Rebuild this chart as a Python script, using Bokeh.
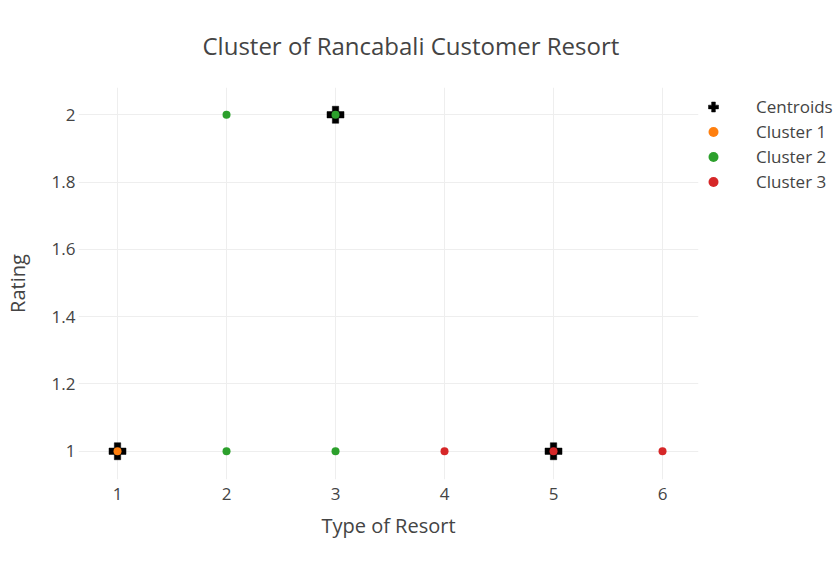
from bokeh.plotting import figure
from bokeh.models import Legend, FixedTicker, Range1d
from bokeh.embed import file_html
from bokeh.resources import INLINE

# Data
centroids_x = [1, 3, 5]
centroids_y = [1, 2, 1]
cluster1_x = [1]
cluster1_y = [1]
cluster2_x = [2, 2, 3, 3]
cluster2_y = [2, 1, 1, 2]
cluster3_x = [4, 5, 6]
cluster3_y = [1, 1, 1]

x_ticks = [1, 2, 3, 4, 5, 6]
x_tick_labels = ["1", "2", "3", "4", "5", "6"]
y_ticks = [1, 1.2, 1.4, 1.6, 1.8, 2]
y_tick_labels = ["1", "1.2", "1.4", "1.6", "1.8", "2"]

FONT = "Open Sans"
TXT = "#444444"

p = figure(frame_width=620, frame_height=392, output_backend="svg", toolbar_location=None,
           x_range=Range1d(0.642, 6.33), y_range=Range1d(0.916, 2.081),
           min_border_left=69, min_border_right=0, min_border_top=5, min_border_bottom=10)

p.title.text = "Cluster of Rancabali Customer Resort"
p.title.align = "left"
p.title.offset = 124
p.title.standoff = 52
p.title.text_font = FONT
p.title.text_font_size = "24px"
p.title.text_font_style = "normal"
p.title.text_color = TXT

p.outline_line_color = None
p.background_fill_color = "white"
p.border_fill_color = "white"

for ax in (p.xaxis, p.yaxis):
    ax.axis_line_color = None
    ax.major_tick_line_color = None
    ax.minor_tick_line_color = None
    ax.major_tick_out = 0
    ax.major_tick_in = 0
    ax.minor_tick_out = 0
    ax.minor_tick_in = 0
    ax.major_label_text_font = FONT
    ax.major_label_text_font_size = "17px"
    ax.major_label_text_color = TXT
    ax.axis_label_text_font = FONT
    ax.axis_label_text_font_size = "20px"
    ax.axis_label_text_font_style = "normal"
    ax.axis_label_text_color = TXT

p.xaxis.ticker = FixedTicker(ticks=x_ticks)
p.xaxis.major_label_overrides = {t: l for t, l in zip(x_ticks, x_tick_labels)}
p.yaxis.ticker = FixedTicker(ticks=y_ticks)
p.yaxis.major_label_overrides = {t: l for t, l in zip(y_ticks, y_tick_labels)}
p.xaxis.axis_label = "Type of Resort"
p.yaxis.axis_label = "Rating"
p.xaxis.major_label_standoff = 8
p.xaxis.axis_label_standoff = 9
p.yaxis.major_label_standoff = 3
p.yaxis.axis_label_standoff = 18

p.grid.grid_line_color = "#eeeeee"
p.grid.grid_line_width = 1

r0 = p.scatter(centroids_x, centroids_y, marker="plus", size=17, fill_color="black",
               line_color="black", line_width=0.5)
r1 = p.scatter(cluster1_x, cluster1_y, marker="circle", size=8, fill_color="#ff7f0e", line_color=None)
r2 = p.scatter(cluster2_x, cluster2_y, marker="circle", size=8, fill_color="#2ca02c", line_color=None)
r3 = p.scatter(cluster3_x, cluster3_y, marker="circle", size=8, fill_color="#d62728", line_color=None)

legend = Legend(items=[("Centroids", [r0]), ("Cluster 1", [r1]), ("Cluster 2", [r2]), ("Cluster 3", [r3])],
                location="top_left", margin=0, padding=0, spacing=0,
                glyph_width=30, glyph_height=25, label_height=25, label_standoff=28,
                title=" ", title_text_font_size="4px", title_standoff=2,
                label_text_font=FONT, label_text_font_size="17px", label_text_color=TXT,
                border_line_color=None, background_fill_alpha=0)
p.add_layout(legend, "right")

open("out.html", "w").write(file_html(p, INLINE))
